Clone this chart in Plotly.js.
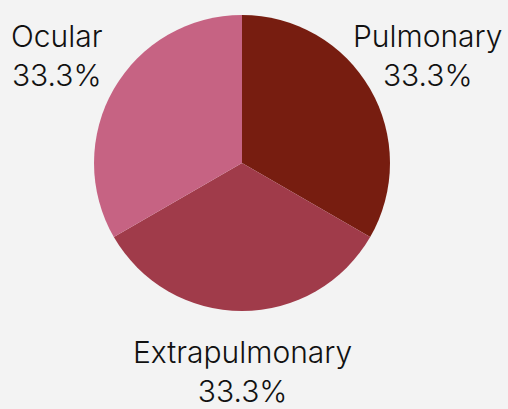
<!DOCTYPE html>
<html>
<head>
<meta charset="utf-8">
<script src="https://cdn.plot.ly/plotly-3.0.1.min.js"></script>
<style>html,body{margin:0;padding:0;background:#f3f3f3;}#chart{width:508px;height:409px;}</style>
</head>
<body>
<div id="chart"></div>
<script>
const labels = ["Pulmonary", "Extrapulmonary", "Ocular"];
const values = [1, 1, 1];
const colors = ["#771d10", "#a03b4a", "#c66383"];

const total = values.reduce((a, b) => a + b, 0);
const pct = values.map(v => (v / total * 100).toFixed(1) + "%");
// label anchor positions in pixels (layout only)
const labelPos = [[428, 56], [242, 371], [57, 56]];

const annotations = labels.map((lab, i) => ({
  xref: "paper", yref: "paper",
  x: labelPos[i][0] / 508, y: 1 - labelPos[i][1] / 409,
  xanchor: "center", yanchor: "middle",
  text: lab + "<br>" + pct[i],
  showarrow: false,
  align: "center",
  font: {family: "Inter, sans-serif", size: 30, color: "#111111", weight: 300}
}));

Plotly.newPlot("chart", [{
  type: "pie",
  labels: labels,
  values: values,
  sort: false,
  direction: "clockwise",
  rotation: 0,
  marker: {colors: colors, line: {width: 0}},
  textinfo: "none",
  domain: {x: [94/508, 390/508], y: [98/409, 394/409]},
  hoverinfo: "none"
}], {
  width: 508, height: 409,
  margin: {l: 0, r: 0, t: 0, b: 0},
  paper_bgcolor: "#f3f3f3",
  plot_bgcolor: "#f3f3f3",
  showlegend: false,
  annotations: annotations,
  font: {family: "Inter, sans-serif"}
}, {displayModeBar: false});
</script>
</body>
</html>
